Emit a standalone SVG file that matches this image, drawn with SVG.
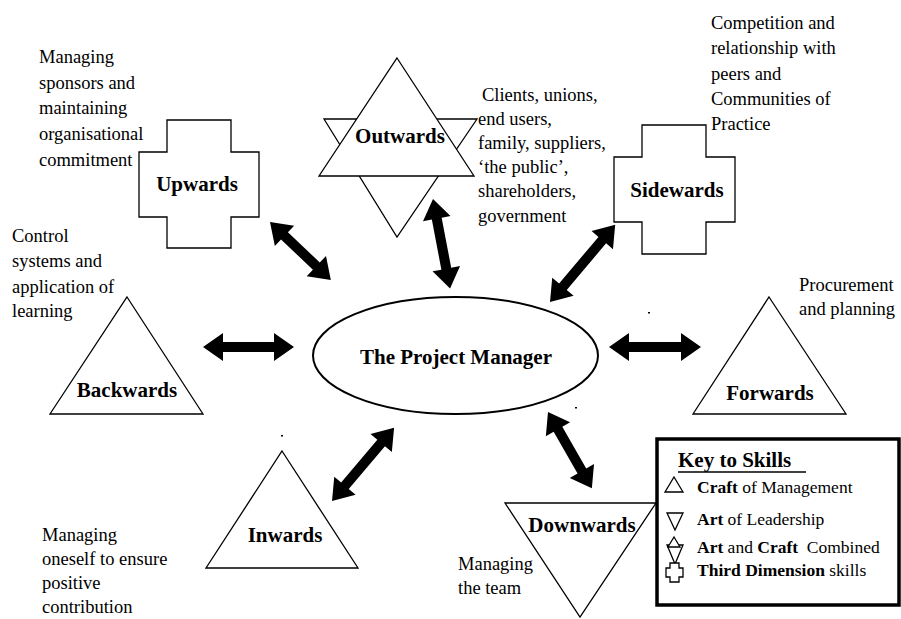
<svg xmlns="http://www.w3.org/2000/svg" width="901" height="619" viewBox="0 0 901 619">
<style>
text{font-family:"Liberation Serif","Times New Roman","DejaVu Serif","Noto Serif",serif}
.shape{fill:#fff;stroke:#000;stroke-width:1.3}
.lbl{font-weight:bold;font-size:21px;text-anchor:middle;fill:#000}
.desc{font-size:18.5px;fill:#000}
.key{font-size:17.5px;fill:#000}
.b{font-weight:bold}
.arrow{fill:#000}
</style>
<rect width="901" height="619" fill="#fff"/>

<g id="connectors">
<path class="arrow" transform="translate(270,222) rotate(43.6)" d="M0,0 L20,-14 L20,-5 L64,-5 L64,-14 L84,0 L64,14 L64,5 L20,5 L20,14 Z"/>
<path class="arrow" transform="translate(433,199) rotate(79.2)" d="M0,0 L20,-14 L20,-5 L71,-5 L71,-14 L91,0 L71,14 L71,5 L20,5 L20,14 Z"/>
<path class="arrow" transform="translate(550,302) rotate(-49.8)" d="M0,0 L20,-14 L20,-5 L81,-5 L81,-14 L101,0 L81,14 L81,5 L20,5 L20,14 Z"/>
<path class="arrow" transform="translate(203,347)" d="M0,0 L20,-14 L20,-5 L71,-5 L71,-14 L91,0 L71,14 L71,5 L20,5 L20,14 Z"/>
<path class="arrow" transform="translate(609,347)" d="M0,0 L20,-14 L20,-5 L72,-5 L72,-14 L92,0 L72,14 L72,5 L20,5 L20,14 Z"/>
<path class="arrow" transform="translate(332,501) rotate(-49.7)" d="M0,0 L20,-14 L20,-5 L76,-5 L76,-14 L96,0 L76,14 L76,5 L20,5 L20,14 Z"/>
<path class="arrow" transform="translate(548,412) rotate(60.1)" d="M0,0 L20,-14 L20,-5 L68,-5 L68,-14 L88,0 L68,14 L68,5 L20,5 L20,14 Z"/>
</g>

<g id="node-pm">
<ellipse cx="455.5" cy="355.5" rx="142.5" ry="58.5" fill="#fff" stroke="#000" stroke-width="2"/>
<text class="lbl" x="456" y="364" font-size="20">The Project Manager</text>
</g>

<g id="node-upwards">
<path class="shape" d="M167,120 H231 V152 H259 V217 H231 V248 H167 V217 H139 V152 H167 Z"/>
<text class="lbl" x="197" y="191">Upwards</text>
<text class="desc" x="39" y="63">Managing</text>
<text class="desc" x="39" y="89">sponsors and</text>
<text class="desc" x="39" y="114">maintaining</text>
<text class="desc" x="39" y="140">organisational</text>
<text class="desc" x="39" y="166">commitment</text>
</g>

<g id="node-outwards">
<path class="shape" d="M324,119 H477 L397,237 Z"/>
<path class="shape" d="M397,58 L474,176 H319 Z"/>
<text class="lbl" x="400" y="143">Outwards</text>
<text class="desc" x="482" y="101">Clients, unions,</text>
<text class="desc" x="478" y="125">end users,</text>
<text class="desc" x="478" y="149">family, suppliers,</text>
<text class="desc" x="478" y="173">&#8216;the public&#8217;,</text>
<text class="desc" x="478" y="197">shareholders,</text>
<text class="desc" x="478" y="222">government</text>
</g>

<g id="node-sidewards">
<path class="shape" d="M642,125 H706 V157 H735 V222 H706 V254 H642 V222 H614 V157 H642 Z"/>
<text class="lbl" x="677" y="197">Sidewards</text>
<text class="desc" x="711" y="29">Competition and</text>
<text class="desc" x="711" y="54">relationship with</text>
<text class="desc" x="711" y="80">peers and</text>
<text class="desc" x="711" y="105">Communities of</text>
<text class="desc" x="711" y="130">Practice</text>
</g>

<g id="node-backwards">
<path class="shape" d="M127,297 L203,414 H50 Z"/>
<text class="lbl" x="127" y="397">Backwards</text>
<text class="desc" x="12" y="242">Control</text>
<text class="desc" x="12" y="267">systems and</text>
<text class="desc" x="12" y="293">application of</text>
<text class="desc" x="12" y="317">learning</text>
</g>

<g id="node-forwards">
<path class="shape" d="M769,297 L846,414 H693 Z"/>
<text class="lbl" x="770" y="400">Forwards</text>
<text class="desc" x="799" y="291">Procurement</text>
<text class="desc" x="799" y="315">and planning</text>
</g>

<g id="node-inwards">
<path class="shape" d="M282,451 L358,568 H206 Z"/>
<text class="lbl" x="285" y="542">Inwards</text>
<text class="desc" x="42" y="541">Managing</text>
<text class="desc" x="42" y="565">oneself to ensure</text>
<text class="desc" x="42" y="589">positive</text>
<text class="desc" x="42" y="613">contribution</text>
</g>

<g id="node-downwards">
<path class="shape" d="M505,503 H656 L580,617 Z"/>
<text class="lbl" x="582" y="532">Downwards</text>
<text class="desc" x="458" y="570">Managing</text>
<text class="desc" x="458" y="594">the team</text>
</g>

<g id="dots" fill="#000">
<rect x="648" y="312" width="2" height="1.5"/>
<rect x="281" y="435" width="2" height="1.5"/>
<rect x="575" y="407" width="2" height="1.5"/>
</g>

<g id="key">
<rect x="657" y="439" width="242" height="166" fill="#fff" stroke="#000" stroke-width="3.5"/>
<text x="678" y="467" font-weight="bold" font-size="21">Key to Skills</text>
<line x1="678" y1="472" x2="806" y2="472" stroke="#000" stroke-width="1.5"/>
<path class="shape" d="M674,477 L683,492 H665 Z"/>
<text class="key" x="697" y="493"><tspan class="b">Craft</tspan> of Management</text>
<path class="shape" d="M667,513 H683 L675,530 Z"/>
<text class="key" x="697" y="525"><tspan class="b">Art</tspan> of Leadership</text>
<path class="shape" d="M667,545 H683 L675,564 Z"/>
<path class="shape" d="M674,537 L680,547 H668 Z"/>
<text class="key" x="697" y="553"><tspan class="b">Art</tspan> and <tspan class="b">Craft</tspan>&#160; Combined</text>
<path class="shape" d="M670,563 H679 V568 H683 V577 H679 V582 H670 V577 H666 V568 H670 Z"/>
<text class="key" x="697" y="576"><tspan class="b">Third Dimension</tspan> skills</text>
</g>
</svg>
